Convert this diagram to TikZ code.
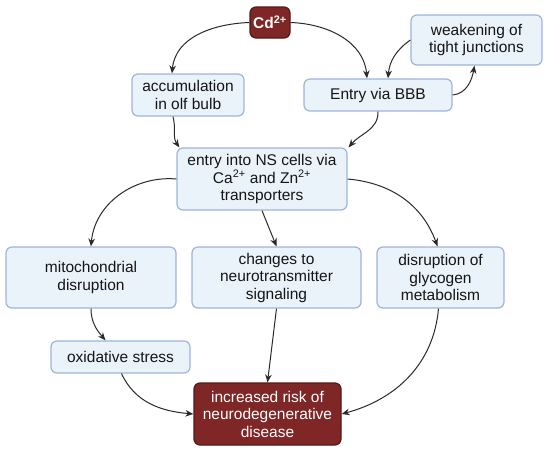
\documentclass[tikz,border=0pt]{standalone}
\usepackage{fontspec}
\setmainfont{Liberation Sans}
\usetikzlibrary{arrows.meta}
\definecolor{boxfill}{HTML}{EAF2FA}
\definecolor{boxline}{HTML}{9DB4DE}
\definecolor{redfill}{HTML}{7F2626}
\definecolor{redline}{HTML}{561818}
\definecolor{linecol}{HTML}{2A2A2A}
\definecolor{txt}{HTML}{151515}
\tikzset{
  bluebox/.style={draw=boxline, fill=boxfill, line width=1.2pt, rounded corners=6pt,
    align=center, inner sep=0pt, text=txt,
    font=\fontsize{15.5}{17.5}\selectfont},
  redbox/.style={draw=redline, fill=redfill, line width=1.2pt, rounded corners=6pt,
    align=center, inner sep=0pt, text=white,
    font=\fontsize{15.5}{17.5}\selectfont},
  conn/.style={draw=linecol, line width=1pt, -{Stealth[length=8pt,width=6.5pt]}},
}
\begin{document}
\begin{tikzpicture}[x=1pt,y=-1pt]
\useasboundingbox (0,0) rectangle (550,451);
\fill[white] (0,0) rectangle (550,451);

\node[redbox, minimum width=40pt, minimum height=31pt, font=\fontsize{15.5}{17.5}\selectfont\bfseries] (cd) at (270,22.5) {Cd\textsuperscript{2+}};
\node[bluebox, minimum width=131pt, minimum height=50pt] (weak) at (476.5,40) {weakening of\\tight junctions};
\node[bluebox, minimum width=112pt, minimum height=42pt] (acc) at (188,95) {accumulation\\in olf bulb};
\node[bluebox, minimum width=148pt, minimum height=32pt] (bbb) at (378,95) {Entry via BBB};
\node[bluebox, minimum width=170pt, minimum height=62pt] (ns) at (262,179) {entry into NS cells via\\Ca\textsuperscript{2+} and Zn\textsuperscript{2+}\\transporters};
\node[bluebox, minimum width=170pt, minimum height=61pt] (mito) at (91,277.5) {mitochondrial\\disruption};
\node[bluebox, minimum width=169pt, minimum height=61pt] (chg) at (276.5,277.5) {changes to\\neurotransmitter\\signaling};
\node[bluebox, minimum width=127pt, minimum height=61pt] (glyc) at (440.5,277.5) {disruption of\\glycogen\\metabolism};
\node[bluebox, minimum width=139pt, minimum height=32pt] (ox) at (120.5,357) {oxidative stress};
\node[redbox, minimum width=147pt, minimum height=62pt] (inc) at (267.5,414) {increased risk of\\neurodegenerative\\disease};

\draw[conn] (cd.west) to[out=182,in=85] ([xshift=-16pt]acc.north);
\draw[conn] (cd.east) to[out=-2,in=95] ([xshift=-11pt]bbb.north);
\draw[conn] (bbb.east) to[out=5,in=-100] ([xshift=-2pt]weak.south);
\draw[conn] (weak.west) to[out=215,in=85] ([xshift=10pt]bbb.north);
\draw[conn] ([xshift=-15pt]acc.south) to[out=-75,in=125] ([xshift=3pt]ns.north west);
\draw[conn] (bbb.south) to[out=-88,in=50] ([xshift=1pt]ns.north east);
\draw[conn] (ns.west) to[out=175,in=85] (mito.north);
\draw[conn] (ns.south) -- (chg.north);
\draw[conn] (ns.east) to[out=-5,in=110] ([xshift=-3pt]glyc.north);
\draw[conn] (mito.south) to[out=-90,in=130] ([xshift=-15pt]ox.north);
\draw[conn] (chg.south) -- (inc.north);
\draw[conn] ([xshift=1pt]ox.south) to[out=-65,in=175] (inc.west);
\draw[conn] ([xshift=-2pt]glyc.south) to[out=-95,in=15] (inc.east);
\end{tikzpicture}
\end{document}
